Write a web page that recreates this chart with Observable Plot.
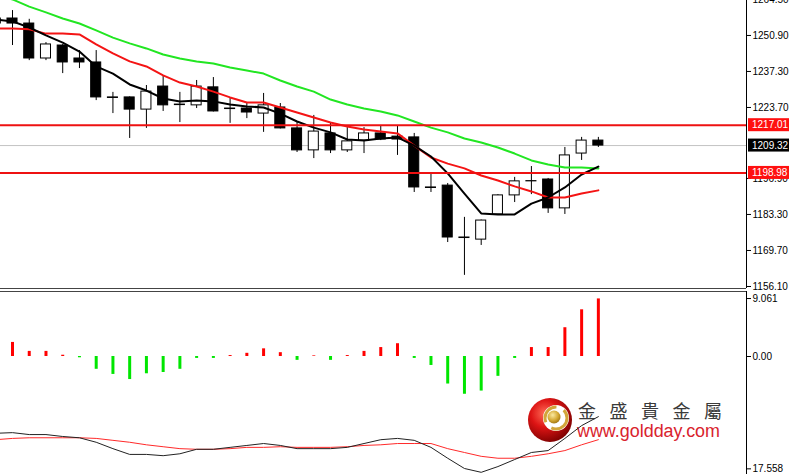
<!DOCTYPE html>
<html><head><meta charset="utf-8">
<script src="https://cdn.jsdelivr.net/npm/d3@7"></script>
<script src="https://cdn.jsdelivr.net/npm/@observablehq/plot@0.6"></script>
<style>
body{margin:0;background:#fff;}
#wrap{position:relative;width:789px;height:474px;overflow:hidden;background:#fff;}
#wrap > svg{position:absolute;left:0;}
</style></head><body><div id="wrap"></div>
<script>
// ---- data ----
const barIndex = [-1,0,1,2,3,4,5,6,7,8,9,10,11,12,13,14,15,16,17,18,19,20,21,22,23,24,25,26,27,28,29,30,31,32,33,34,35];
const openP  = [1257.3,1257.3,1255.4,1242.2,1247.1,1242.2,1240.7,1227.5,1227.5,1222.9,1231.6,1224.8,1224.5,1231.3,1223.3,1223.3,1221.4,1223.7,1215.8,1207.5,1213.9,1207.5,1211.2,1213.9,1212.7,1212.4,1193.5,1194.2,1174.6,1173.8,1183.3,1190.5,1195.8,1196.5,1185.6,1206.3,1211.2];
const highP  = [1258.5,1260.3,1257.0,1248.2,1247.5,1245.2,1245.2,1229.4,1227.7,1232.0,1235.4,1229.4,1233.9,1235.0,1227.1,1225.2,1229.0,1225.2,1218.0,1220.7,1218.0,1216.1,1216.1,1216.9,1216.9,1213.9,1198.8,1195.0,1182.2,1181.2,1190.8,1197.3,1201.4,1196.9,1208.6,1212.4,1212.4];
const lowP   = [1254.0,1247.1,1241.4,1241.4,1236.5,1238.4,1226.3,1221.4,1212.0,1215.8,1222.2,1218.0,1223.3,1222.0,1217.7,1219.5,1214.3,1215.6,1206.7,1204.4,1206.3,1206.7,1206.3,1211.2,1205.6,1191.6,1191.6,1172.7,1160.3,1171.6,1183.3,1187.8,1190.8,1183.7,1183.3,1203.7,1208.6];
const closeP = [1255.4,1255.4,1242.2,1247.5,1240.7,1240.7,1227.5,1227.3,1222.9,1229.7,1224.5,1224.6,1231.6,1222.2,1223.1,1221.8,1224.5,1215.8,1207.5,1214.6,1207.5,1210.9,1213.9,1211.6,1211.6,1193.5,1193.3,1174.6,1174.4,1181.0,1190.5,1195.8,1195.9,1185.6,1205.6,1211.2,1209.32];
const maFast = [1256.9,1256.2,1253.9,1250.9,1248.2,1244.8,1239.2,1236.5,1232.4,1230.1,1227.1,1226.0,1226.3,1226.0,1224.8,1224.1,1223.7,1221.4,1218.4,1216.1,1214.3,1211.6,1211.2,1212.0,1212.4,1209.3,1205.2,1198.8,1191.2,1183.7,1183.3,1183.3,1187.4,1189.7,1193.5,1198.4,1201.4];
const maMid  = [1253.5,1253.5,1253.2,1251.6,1251.6,1251.3,1247.5,1244.1,1241.1,1239.2,1235.8,1233.1,1231.6,1229.7,1227.5,1225.6,1225.6,1223.7,1221.8,1219.9,1218.0,1216.5,1215.4,1214.6,1213.9,1209.3,1204.8,1202.5,1200.7,1198.0,1196.1,1193.9,1192.0,1189.7,1189.7,1191.2,1192.4];
const maSlow = [1266.4,1264.5,1261.8,1259.6,1257.3,1255.4,1252.8,1250.1,1247.9,1246.0,1243.7,1242.2,1241.1,1240.3,1238.8,1237.7,1236.5,1233.9,1231.6,1229.7,1226.7,1224.8,1223.3,1222.2,1220.7,1218.4,1216.1,1214.3,1212.0,1210.5,1208.6,1206.3,1203.7,1202.2,1201.0,1201.0,1200.7];
const histVal = [null,2.2,0.8,0.8,0.2,-0.2,-2.0,-2.8,-3.6,-2.7,-2.5,-2.0,-0.3,-0.3,0.15,0.5,1.2,0.6,-0.6,0.1,-0.6,0.15,0.8,1.4,2.0,-0.3,-1.4,-4.3,-5.9,-5.4,-3.1,-0.3,1.4,1.4,4.5,7.3,9.0];
const oscBlack = [-12.0,-11.9,-12.2,-12.2,-12.5,-12.7,-13.4,-14.4,-15.3,-15.3,-15.5,-15.2,-14.5,-14.5,-14.2,-13.9,-13.6,-13.9,-14.4,-14.4,-14.4,-14.2,-13.6,-13.0,-12.8,-13.1,-14.2,-15.9,-17.5,-18.1,-17.2,-16.1,-15.0,-14.7,-12.8,-10.8,-9.4];
const oscRed   = [-13.0,-12.8,-12.7,-12.7,-12.7,-12.7,-12.8,-13.1,-13.4,-13.8,-14.1,-14.4,-14.5,-14.5,-14.4,-14.2,-14.2,-14.1,-14.2,-14.2,-14.2,-14.1,-13.9,-13.8,-13.6,-13.6,-13.6,-14.4,-15.0,-15.6,-15.9,-15.9,-15.6,-15.2,-14.7,-13.8,-13.0];
const levelLines = [1217.01, 1198.98];
const lastPrice = 1209.32;
const priceTicks = [1264.50,1250.90,1237.30,1223.70,1196.90,1183.30,1169.70,1156.10];
const histTicks = [9.061, 0, -17.558];
const histTickLabels = ["9.061", "0.00", "17.558"];
const brandName = "金盛貴金屬";
const brandUrl = "www.goldday.com";

// ---- build ----
const bars = barIndex.map((i,k)=>({i, o:openP[k], h:highP[k], l:lowP[k], c:closeP[k],
  f:maFast[k], m:maMid[k], s:maSlow[k], hv:histVal[k], ob:oscBlack[k], orr:oscRed[k]}));
const xDomain = [-0.717, 43.85];
const yMain = [1155.34, 1264.1];
const yHist = [-18.44, 10.16];
const FONT = "Liberation Sans, Arial, sans-serif";
const FS = 10;

function boxMark(items) {
  return (index, scales, values, dims) => {
    const g = d3.create("svg:g").attr("text-anchor", "start");
    const x0 = dims.width - dims.marginRight + 2;
    for (const it of items) {
      const y = scales.y(it.v);
      g.append("rect").attr("x", x0).attr("y", y - 6.5).attr("width", dims.width - x0).attr("height", 13).attr("fill", it.bg);
      g.append("text").attr("x", x0 + 4).attr("y", y).attr("dy", "0.36em").attr("fill", "#fff")
        .attr("text-anchor", "start").attr("font-size", FS).attr("font-family", FONT).text(it.v.toFixed(2));
    }
    return g.node();
  };
}

const main = Plot.plot({
  width: 789, height: 290,
  marginLeft: 0, marginRight: 43, marginTop: 0, marginBottom: 2,
  x: {domain: xDomain, axis: null},
  y: {domain: yMain, axis: null},
  style: {background: "transparent", fontFamily: FONT, fontSize: FS + "px", color: "#000", overflow: "visible"},
  marks: [
    Plot.ruleY([lastPrice], {stroke: "#c4c4c4", strokeWidth: 1}),
    Plot.ruleX(bars, {x: "i", y1: "l", y2: "h", stroke: "#000", strokeWidth: 1}),
    Plot.rect(bars, {x1: d => d.i - 0.3, x2: d => d.i + 0.3, y1: "o", y2: "c",
      fill: d => d.c > d.o ? "#fff" : "#000", stroke: "#000", strokeWidth: 1}),
    Plot.line(bars, {x: "i", y: "s", stroke: "#22e622", strokeWidth: 2}),
    Plot.line(bars, {x: "i", y: "m", stroke: "#f41414", strokeWidth: 2}),
    Plot.line(bars, {x: "i", y: "f", stroke: "#000", strokeWidth: 2}),
    Plot.ruleY(levelLines, {stroke: "#ee1111", strokeWidth: 2}),
    Plot.ruleX([xDomain[1]], {stroke: "#000", strokeWidth: 1}),
    Plot.ruleY([yMain[0]], {stroke: "#444", strokeWidth: 1}),
    Plot.axisY({anchor: "right", ticks: priceTicks, tickFormat: d => d.toFixed(2), tickSize: 4, tickPadding: 2, fontSize: FS}),
    boxMark([{v: levelLines[0], bg: "#ff1010"}, {v: lastPrice, bg: "#000"}, {v: levelLines[1], bg: "#ff1010"}])
  ]
});
main.style.top = "0px";
main.style.overflow = "visible";

const hist = Plot.plot({
  width: 789, height: 184,
  marginLeft: 0, marginRight: 43, marginTop: 1, marginBottom: 0,
  x: {domain: xDomain, axis: null},
  y: {domain: yHist, axis: null},
  style: {background: "transparent", fontFamily: FONT, fontSize: FS + "px", color: "#000"},
  marks: [
    Plot.ruleX(bars.filter(d => d.hv != null), {x: "i", y1: 0, y2: "hv",
      stroke: d => d.hv >= 0 ? "#ff0000" : "#00e600", strokeWidth: 3}),
    Plot.line(bars, {x: "i", y: "orr", stroke: "#ff2a2a", strokeWidth: 1}),
    Plot.line(bars, {x: "i", y: "ob", stroke: "#222", strokeWidth: 1}),
    Plot.ruleX([xDomain[1]], {stroke: "#000", strokeWidth: 1}),
    Plot.ruleY([yHist[1]], {stroke: "#444", strokeWidth: 1}),
    Plot.axisY({anchor: "right", ticks: histTicks, tickFormat: d => histTickLabels[histTicks.indexOf(d)], tickSize: 4, tickPadding: 2, fontSize: FS})
  ]
});
hist.style.top = "290px";

// watermark (decoration)
const wm = d3.create("svg").attr("width", 789).attr("height", 474).style("top", "0px");
const defs = wm.append("defs");
const rg = defs.append("radialGradient").attr("id", "redG").attr("cx", "38%").attr("cy", "35%").attr("r", "70%");
rg.append("stop").attr("offset", "0%").attr("stop-color", "#ff6a55");
rg.append("stop").attr("offset", "45%").attr("stop-color", "#dd1414");
rg.append("stop").attr("offset", "100%").attr("stop-color", "#7a0000");
const gg = defs.append("radialGradient").attr("id", "goldG").attr("cx", "40%").attr("cy", "35%").attr("r", "70%");
gg.append("stop").attr("offset", "0%").attr("stop-color", "#fbe9a0");
gg.append("stop").attr("offset", "60%").attr("stop-color", "#d4a832");
gg.append("stop").attr("offset", "100%").attr("stop-color", "#9a7010");
wm.append("circle").attr("cx", 550).attr("cy", 420).attr("r", 22).attr("fill", "url(#redG)");
wm.append("circle").attr("cx", 556).attr("cy", 418).attr("r", 13).attr("fill", "#fff");
wm.append("circle").attr("cx", 556).attr("cy", 418).attr("r", 11).attr("fill", "none")
  .attr("stroke", "#d2a53a").attr("stroke-width", 3).attr("stroke-dasharray", "22 8");
wm.append("circle").attr("cx", 554).attr("cy", 417).attr("r", 6.5).attr("fill", "url(#goldG)");
wm.append("text").attr("x", 578).attr("y", 418).attr("font-family", "Noto Sans CJK TC").attr("font-size", 18)
  .attr("fill", "#3a3a3a").attr("textLength", 144).attr("lengthAdjust", "spacing").text(brandName);
wm.append("text").attr("x", 577).attr("y", 437).attr("font-family", FONT).attr("font-size", 18)
  .attr("fill", "#d9232d").attr("textLength", 143).attr("lengthAdjust", "spacingAndGlyphs").text(brandUrl);

const wrap = document.getElementById("wrap");
wrap.appendChild(wm.node());
wrap.appendChild(main);
wrap.appendChild(hist);
</script></body></html>
